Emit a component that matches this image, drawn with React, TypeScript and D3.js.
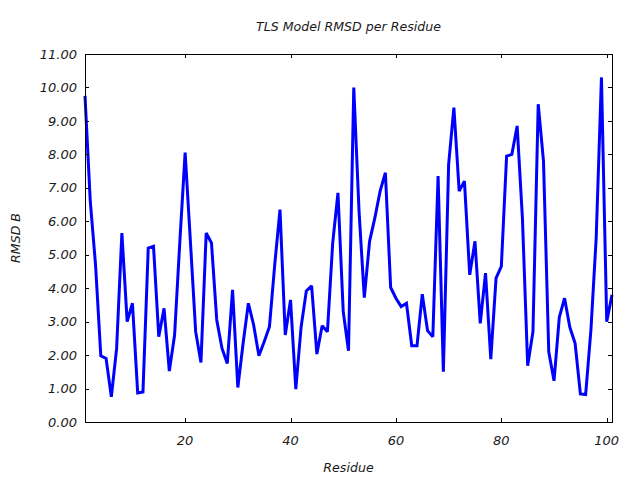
import React from "react";
import * as d3 from "d3";

const residues: number[] = Array.from({ length: 101 }, (_, i) => i + 1);
const rmsd: number[] = [
  9.75, 6.6, 4.7, 1.98, 1.9, 0.75, 2.2, 5.65, 3.0, 3.55,
  0.87, 0.9, 5.2, 5.25, 2.55, 3.4, 1.52, 2.6, 5.4, 8.05,
  5.4, 2.7, 1.78, 5.65, 5.35, 3.05, 2.2, 1.75, 3.95, 1.03,
  2.35, 3.55, 2.9, 1.98, 2.4, 2.85, 4.7, 6.35, 2.6, 3.65,
  0.98, 2.83, 3.92, 4.07, 2.03, 2.88, 2.7, 5.35, 6.85, 3.3,
  2.13, 10.0, 6.3, 3.72, 5.4, 6.1, 6.9, 7.45, 4.02, 3.7,
  3.45, 3.55, 2.28, 2.28, 3.82, 2.73, 2.55, 7.35, 1.5, 7.7,
  9.4, 6.9, 7.2, 4.4, 5.4, 2.95, 4.45, 1.88, 4.3, 4.65,
  7.95, 8.0, 8.85, 6.1, 1.68, 2.7, 9.5, 7.8, 2.1, 1.23,
  3.13, 3.7, 2.83, 2.35, 0.84, 0.82, 2.75, 5.5, 10.3, 3.0,
  3.8,
];
const xTicks: number[] = [20, 40, 60, 80, 100];
const yTicks: number[] = [0, 1, 2, 3, 4, 5, 6, 7, 8, 9, 10, 11];

const title = "TLS Model RMSD per Residue";
const xLabel = "Residue";
const yLabel = "RMSD B";

export default function App() {
  const W = 640;
  const H = 480;
  const left = 85;
  const right = 612;
  const top = 54;
  const bottom = 422;
  const x = d3.scaleLinear().domain([1, 101]).range([left, right]);
  const y = d3.scaleLinear().domain([0, 11]).range([bottom, top]);
  const line = d3
    .line<number>()
    .x((_, i) => x(residues[i]))
    .y((d) => y(d));
  const font = "'DejaVu Sans', sans-serif";
  const tc = "#1a1a1a";
  const tick = 4;
  return (
    <svg
      width={W}
      height={H}
      style={{ position: "absolute", left: 0, top: 0, background: "#fff" }}
      fontFamily={font}
    >
      <rect x={0} y={0} width={W} height={H} fill="#fff" />
      <path
        d={line(rmsd) || ""}
        fill="none"
        stroke="#0000ff"
        strokeWidth={3}
        strokeLinejoin="miter"
        strokeMiterlimit={2}
      />
      <rect
        x={left + 0.5}
        y={top + 0.5}
        width={right - left}
        height={bottom - top}
        fill="none"
        stroke="#000"
        strokeWidth={1}
        shapeRendering="crispEdges"
      />
      {yTicks.map((t) => (
        <g key={"y" + t}>
          <line x1={left} x2={left + tick} y1={Math.round(y(t)) + 0.5} y2={Math.round(y(t)) + 0.5} stroke="#000" shapeRendering="crispEdges" />
          <line x1={right - tick} x2={right} y1={Math.round(y(t)) + 0.5} y2={Math.round(y(t)) + 0.5} stroke="#000" shapeRendering="crispEdges" />
          <text
            x={77}
            y={y(t)}
            dy="0.36em"
            textAnchor="end"
            fontSize={13}
            fontStyle="italic"
            fill={tc}
          >
            {t.toFixed(2)}
          </text>
        </g>
      ))}
      {xTicks.map((t) => (
        <g key={"x" + t}>
          <line x1={Math.round(x(t)) + 0.5} x2={Math.round(x(t)) + 0.5} y1={bottom} y2={bottom - tick} stroke="#000" shapeRendering="crispEdges" />
          <line x1={Math.round(x(t)) + 0.5} x2={Math.round(x(t)) + 0.5} y1={top} y2={top + tick} stroke="#000" shapeRendering="crispEdges" />
          <text
            x={x(t)}
            y={445}
            textAnchor="middle"
            fontSize={13}
            fontStyle="italic"
            fill={tc}
          >
            {t}
          </text>
        </g>
      ))}
      <text
        x={(left + right) / 2}
        y={31}
        textAnchor="middle"
        fontSize={12.6}
        fontStyle="italic"
        fill={tc}
      >
        {title}
      </text>
      <text
        x={(left + right) / 2}
        y={472}
        textAnchor="middle"
        fontSize={12.6}
        fontStyle="italic"
        fill={tc}
      >
        {xLabel}
      </text>
      <text
        transform={`translate(20, ${(top + bottom) / 2}) rotate(-90)`}
        textAnchor="middle"
        fontSize={12.6}
        fontStyle="italic"
        fill={tc}
      >
        {yLabel}
      </text>
    </svg>
  );
}
